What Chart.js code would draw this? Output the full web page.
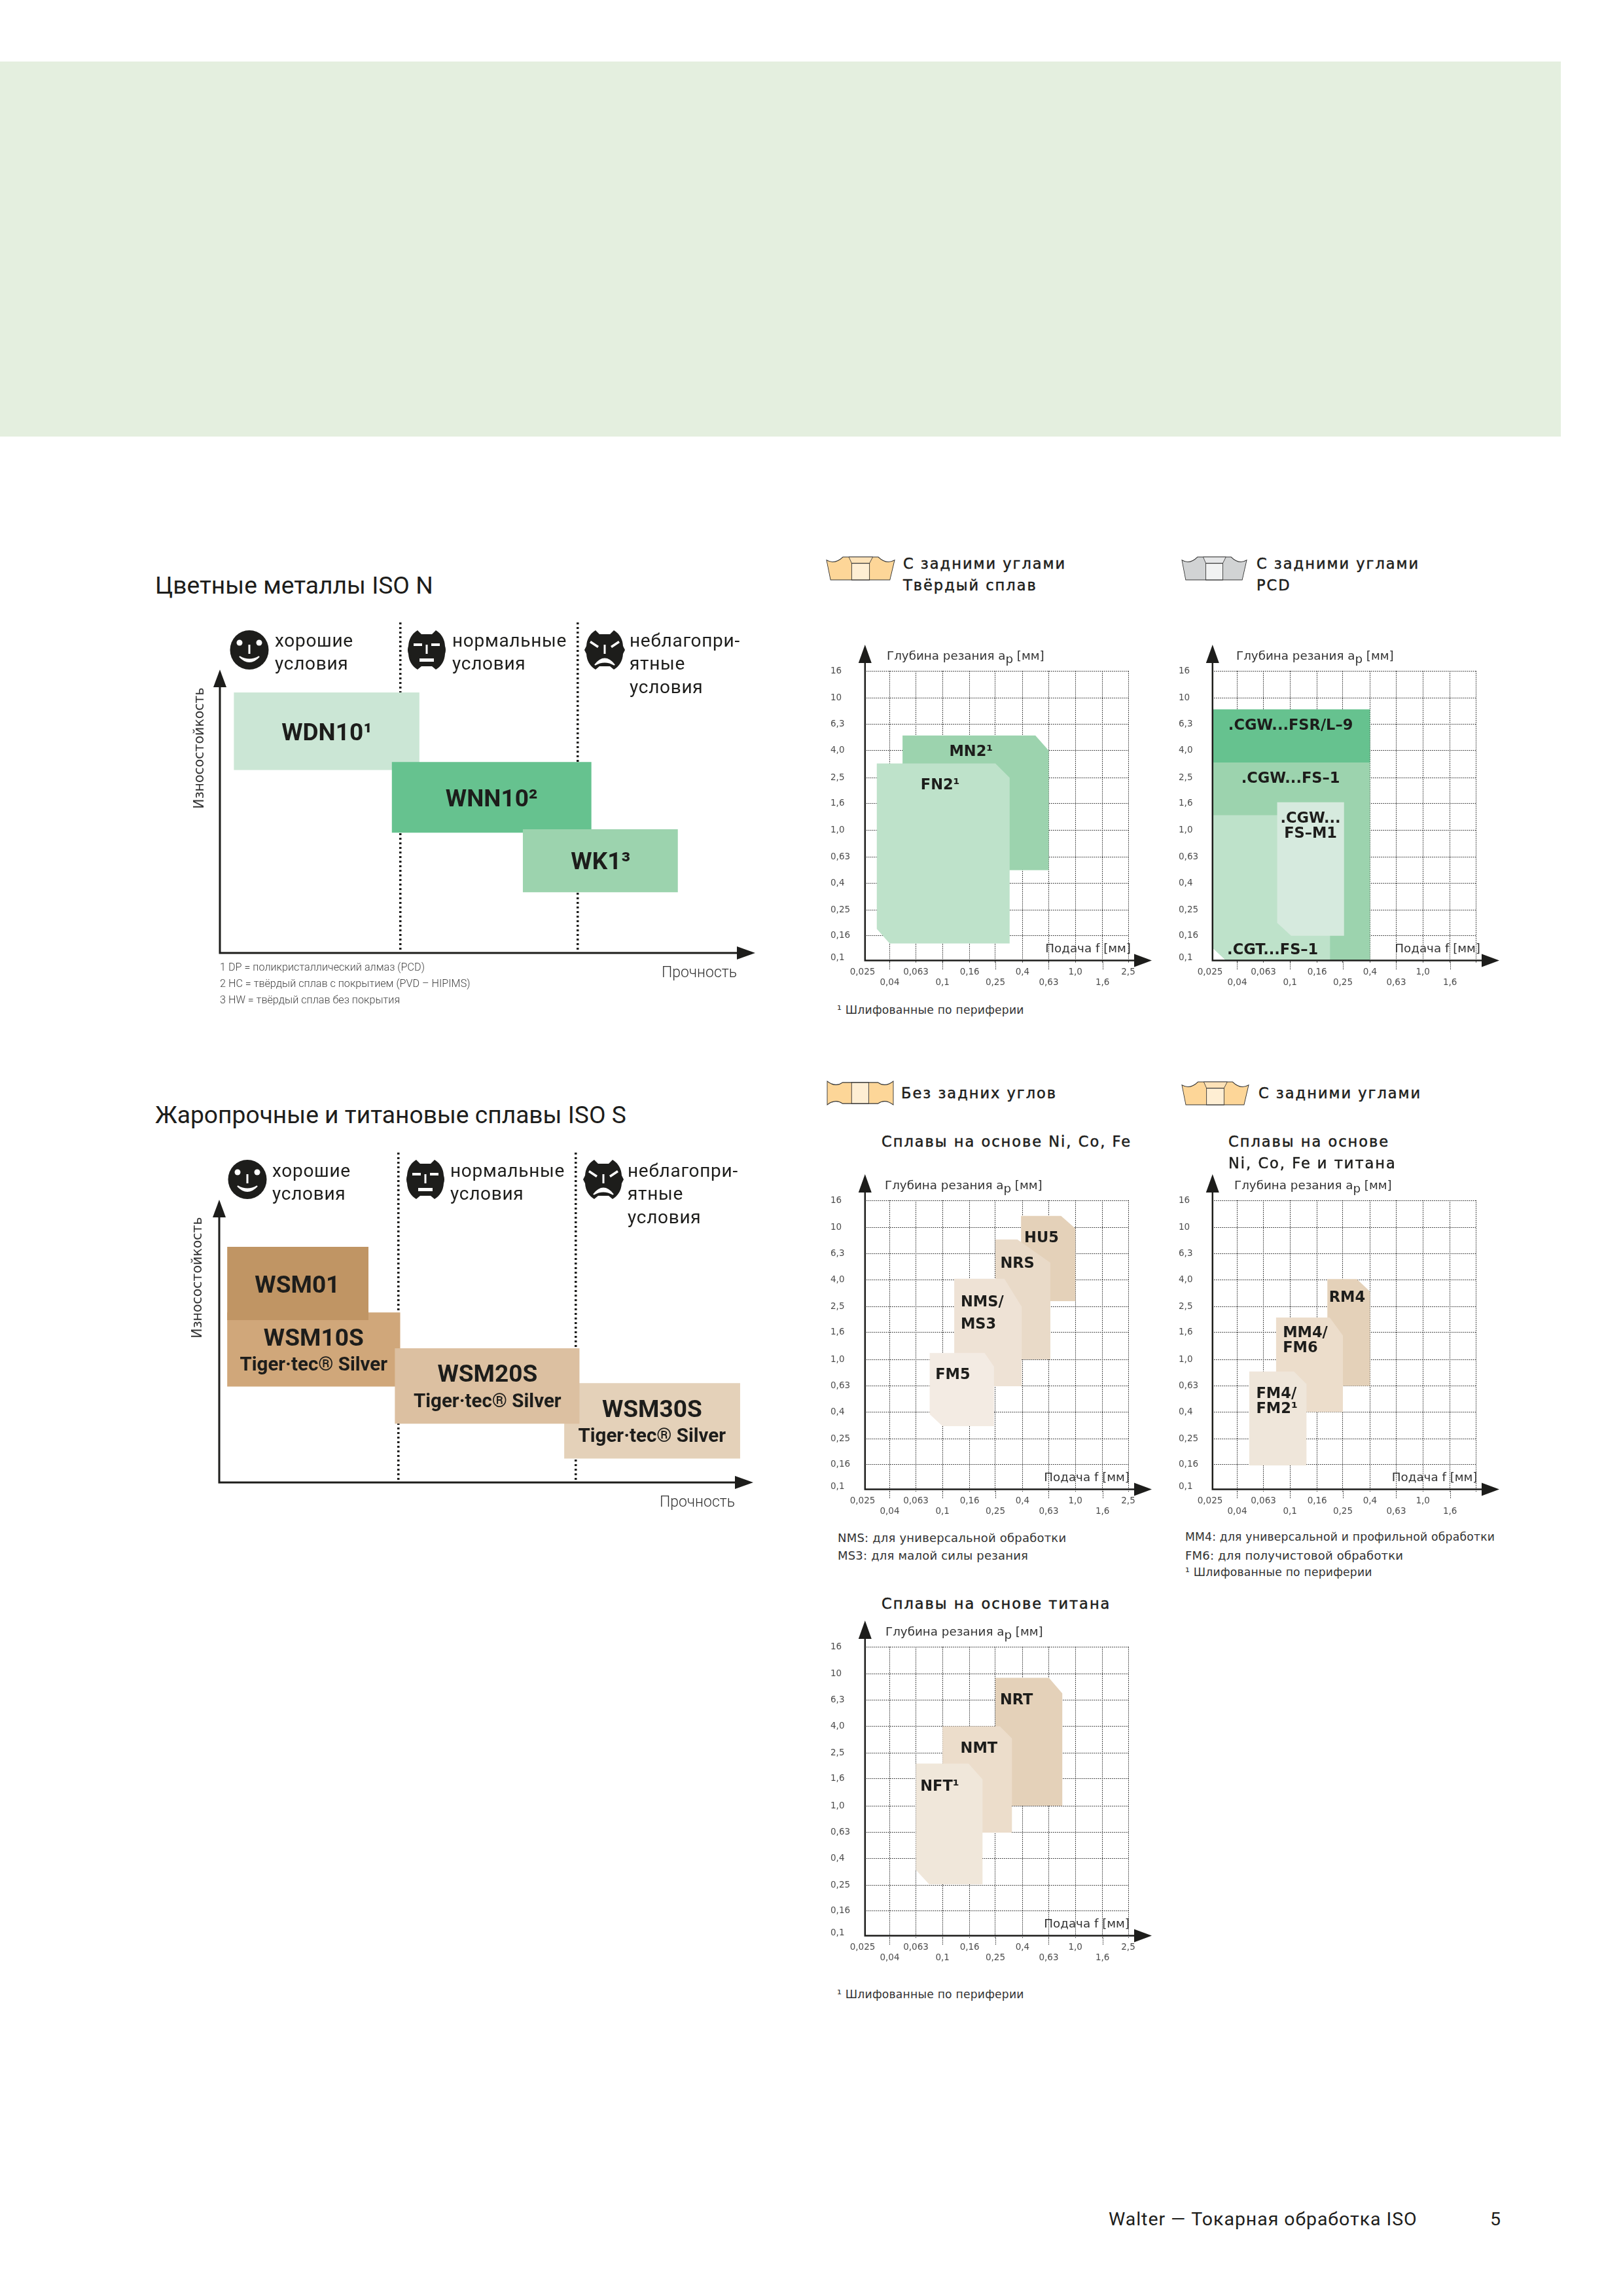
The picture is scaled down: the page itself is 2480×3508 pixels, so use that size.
<!DOCTYPE html>
<html lang="ru"><head><meta charset="utf-8">
<script src="https://cdn.jsdelivr.net/npm/chart.js@4/dist/chart.umd.min.js"></script>
<style>
html,body{margin:0;padding:0;background:#fff}
#page{position:relative;width:2480px;height:3508px;overflow:hidden;background:#fff}
#band{position:absolute;left:0;top:94px;width:2385px;height:573px;background:#e4efdf}
canvas{position:absolute;display:block}
.t{position:absolute;white-space:nowrap;line-height:1;transform:translateY(-50%);color:#1d1d1b}
.title{font:400 37.2px Roboto,sans-serif}
.cond{font:400 28px Roboto,sans-serif;letter-spacing:.7px}
.head{font:400 22.5px "DejaVu Sans",sans-serif;letter-spacing:2px;-webkit-text-stroke:.5px #1d1d1b}
.note{font:400 17.2px "DejaVu Sans",sans-serif;color:#333;letter-spacing:.2px}
.note2{font:400 18px "DejaVu Sans",sans-serif;color:#333;letter-spacing:.2px}
.fine{font:300 16.2px Roboto,sans-serif;color:#444}
.foot{font:400 28.5px Roboto,sans-serif;letter-spacing:.95px}
svg{position:absolute;overflow:visible}
</style></head><body><div id="page"><div id="band"></div></div>
<script>
// ---------- axis values of the feed / depth diagrams
const feedTicks=[0.025,0.04,0.063,0.1,0.16,0.25,0.4,0.63,1,1.6,2.5];
const feedLabels=['0,025','0,04','0,063','0,1','0,16','0,25','0,4','0,63','1,0','1,6','2,5'];
const depthTicks=[0.1,0.16,0.25,0.4,0.63,1,1.6,2.5,4,6.3,10,16];
const depthLabels=['0,1','0,16','0,25','0,4','0,63','1,0','1,6','2,5','4,0','6,3','10','16'];
const feedAxisAt=0.0261, depthAxisAt=0.104;

// ---------- application fields as [feed, depth]
const MN2=[[0.05,0.5],[0.05,5.2],[0.5,5.2],[0.63,4],[0.63,0.5]];
const FN2=[[0.032,3.2],[0.25,3.2],[0.32,2.5],[0.32,0.14],[0.04,0.14],[0.032,0.18]];
const CGW_FSR=[[0.0261,8.2],[0.4,8.2],[0.4,3.25],[0.0261,3.25]];
const CGW_FS1=[[0.0261,3.25],[0.4,3.25],[0.4,0.104],[0.033,0.104],[0.0261,0.13]];
const CGT_FS1=[[0.0261,1.3],[0.2,1.3],[0.2,0.104],[0.033,0.104],[0.0261,0.13]];
const CGW_FSM1=[[0.08,1.63],[0.255,1.63],[0.255,0.16],[0.102,0.16],[0.08,0.2]];
const HU5=[[0.39,12.2],[0.78,12.2],[1,9.8],[1,2.76],[0.39,2.76]];
const NRS=[[0.25,8.1],[0.366,8.1],[0.648,5.4],[0.648,1],[0.25,1]];
const NMS=[[0.1225,4.08],[0.292,4.08],[0.395,2.5],[0.395,0.627],[0.1225,0.627]];
const FM5=[[0.08,1.12],[0.2075,1.12],[0.244,0.883],[0.244,0.3125],[0.1,0.3125],[0.08,0.385]];
const RM4=[[0.191,4.06],[0.318,4.06],[0.4,3.27],[0.4,0.63],[0.191,0.63]];
const MM4=[[0.0785,2.08],[0.199,2.08],[0.25,1.52],[0.25,0.4],[0.0785,0.4]];
const FM4=[[0.0493,0.81],[0.107,0.81],[0.133,0.652],[0.133,0.158],[0.0493,0.158]];
const NRT=[[0.25,9.3],[0.632,9.3],[0.797,7.1],[0.797,1],[0.25,1]];
const NMT=[[0.1,4],[0.27,4],[0.333,3.24],[0.333,0.628],[0.1,0.628]];
const NFT=[[0.063,2.09],[0.157,2.09],[0.2,1.59],[0.2,0.255],[0.0794,0.255],[0.063,0.327]];

// ---------- grade boxes as [toughness from, to, wear from, to]
const conditionDividers=[1,2];
const WDN10=[0.063,1.108,2.795,3.98];
const WNN10=[0.953,2.077,1.837,2.918];
const WK1=[1.691,2.564,0.927,1.89];
const WSM01=[0.0336,0.83,2.481,3.6];
const WSM10S=[0.0336,1.009,1.466,2.598];
const WSM20S=[0.979,2.02,0.898,2.051];
const WSM30S=[1.934,2.926,0.364,1.518];

const INK='#1d1d1b';
const page=document.getElementById('page');
function el(html){const d=document.createElement('div');d.innerHTML=html;return d.firstElementChild;}
function txt(x,y,s,cls){const e=document.createElement('div');e.className='t '+cls;e.style.left=x+'px';e.style.top=y+'px';e.textContent=s;page.appendChild(e);}
function arrowUp(c,x,tip,base,hw){c.beginPath();c.moveTo(x,tip);c.lineTo(x+hw,base);c.lineTo(x-hw,base);c.closePath();c.fill();}
function arrowRight(c,y,tip,base,hh){c.beginPath();c.moveTo(tip,y);c.lineTo(base,y-hh);c.lineTo(base,y+hh);c.closePath();c.fill();}

// ---------- feed / depth diagrams
const fieldPlugin={id:'field',
 beforeDatasetsDraw(ch){const c=ch.ctx,x=ch.scales.x,A=ch.chartArea;
   c.save();c.fillStyle='#fff';c.fillRect(A.left-1,A.top-2,x.getPixelForValue(feedAxisAt)-A.left+1,A.bottom-A.top+4);c.restore();},
 afterDraw(ch,a,o){const c=ch.ctx,x=ch.scales.x,y=ch.scales.y,A=ch.chartArea;
   const ax=x.getPixelForValue(feedAxisAt),ay=y.getPixelForValue(depthAxisAt);
   c.save();
   // short drop lines under the second label row
   c.strokeStyle='#1a1a1a';c.lineWidth=1;c.setLineDash([1.5,1.5]);
   feedTicks.forEach((v,i)=>{if(i%2===1){const p=Math.round(x.getPixelForValue(v))+.5;c.beginPath();c.moveTo(p,ay);c.lineTo(p,ay+15);c.stroke();}});
   c.setLineDash([]);
   // axes
   c.strokeStyle=INK;c.fillStyle=INK;c.lineWidth=2.5;
   c.beginPath();c.moveTo(ax,A.top-20);c.lineTo(ax,ay);c.lineTo(A.right+12,ay);c.stroke();
   arrowUp(c,ax,A.top-40,A.top-12,10);arrowRight(c,ay,A.right+36,A.right+9,10);
   // axis captions
   c.fillStyle='#333';c.font='18.3px "DejaVu Sans"';c.textBaseline='middle';c.textAlign='left';
   let px=A.left+o.depthDx;const py=A.top-22,s1='Глубина резания a';
   c.fillText(s1,px,py);px+=c.measureText(s1).width;
   c.fillText('p',px,py+5);px+=c.measureText('p').width;
   c.fillText(' [мм]',px,py);
   c.textAlign='right';c.fillText('Подача f [мм]',A.right+o.feedDx+1,A.bottom-21);
   // field names
   c.fillStyle=INK;c.font='bold 22.5px "DejaVu Sans"';
   (o.names||[]).forEach(n=>{c.textAlign=n.left?'left':'center';
     const X=x.getPixelForValue(n.f),Y=y.getPixelForValue(n.ap)+2,lh=n.lh||23,l=n.lines;
     l.forEach((s,i)=>c.fillText(s,X,Y+(i-(l.length-1)/2)*lh));});
   c.restore();}};

function fieldChart(box,fields,colors,names,opt){
  const yw=opt.yw,pT=50,pR=45,xh=44,L=box[0],R=box[1],T=box[2],B=box[3];
  const cv=document.createElement('canvas');cv.width=yw+(R-L)+pR;cv.height=pT+(B-T)+xh;
  cv.style.left=(L-yw)+'px';cv.style.top=(T-pT)+'px';page.appendChild(cv);
  new Chart(cv,{type:'line',plugins:[fieldPlugin],data:{datasets:fields.map((f,i)=>({
      data:f.map(p=>({x:p[0],y:p[1]})),fill:'shape',backgroundColor:colors[i],borderWidth:0,pointRadius:0,tension:0,order:fields.length-i}))},
    options:{responsive:false,animation:false,devicePixelRatio:1,layout:{padding:{left:0,top:pT,right:pR,bottom:0}},
      plugins:{legend:{display:false},tooltip:{enabled:false},title:{display:false},field:{names,depthDx:opt.depthDx,feedDx:opt.feedDx}},
      scales:{
        x:{type:'logarithmic',min:0.025,max:2.5,position:'bottom',
          afterBuildTicks:s=>{s.ticks=feedTicks.map(v=>({value:v}));},afterFit:s=>{s.height=xh;},
          border:{display:false,dash:[1.5,1.5]},
          grid:{drawTicks:false,lineWidth:1,color:c=>c.tick&&c.tick.value===0.025?'rgba(0,0,0,0)':'#1a1a1a'},
          ticks:{autoSkip:false,maxRotation:0,minRotation:0,padding:6,color:'#4d4d4d',font:{family:'DejaVu Sans',size:13.5,lineHeight:'16px'},
            callback:(v,i)=>{if(i===10&&opt.hideLast)return '';return i%2?['',feedLabels[i]]:feedLabels[i];}}},
        y:{type:'logarithmic',min:0.1,max:16,position:'left',
          afterBuildTicks:s=>{s.ticks=depthTicks.map(v=>({value:v}));},afterFit:s=>{s.width=yw;},
          border:{display:false,dash:[1.5,1.5]},
          grid:{drawTicks:false,lineWidth:1,color:c=>c.tick&&c.tick.value===0.1?'rgba(0,0,0,0)':'#1a1a1a'},
          ticks:{autoSkip:false,crossAlign:'far',padding:0,color:'#4d4d4d',font:{family:'DejaVu Sans',size:13.5,lineHeight:'16px'},
            callback:(v,i)=>i===0?[depthLabels[0],'']:depthLabels[i]}}
      }}});
}
const GREEN=['#9cd3ae','#bee2ca'];
fieldChart([1318,1724,1025,1471],[MN2,FN2],GREEN,
 [{lines:['MN2¹'],f:0.164,ap:4.0},{lines:['FN2¹'],f:0.096,ap:2.22}],{yw:49,depthDx:37,feedDx:3});
fieldChart([1849,2255,1025,1471],[CGW_FS1,CGW_FSR,CGT_FS1,CGW_FSM1],['#9cd3ae','#66c28f','#bee2ca','#d6eade'],
 [{lines:['.CGW...FSR/L–9'],f:0.101,ap:6.3},{lines:['.CGW...FS–1'],f:0.101,ap:2.5},
  {lines:['.CGW...','FS–M1'],f:0.1427,ap:1.09},{lines:['.CGT...FS–1'],f:0.074,ap:0.127}],{yw:48,depthDx:40,feedDx:6,hideLast:true});
fieldChart([1318,1724,1834,2279],[HU5,NRS,NMS,FM5],['#e4d1b9','#e9dac8','#eee2d5','#f3ebe3'],
 [{lines:['HU5'],f:0.556,ap:8.42},{lines:['NRS'],f:0.366,ap:5.4},{lines:['NMS/','MS3'],f:0.137,ap:2.26,left:true,lh:34},{lines:['FM5'],f:0.1195,ap:0.778}],{yw:49,depthDx:34,feedDx:1});
fieldChart([1849,2255,1834,2279],[RM4,MM4,FM4],['#e4d1b9','#ecddcb','#efe6da'],
 [{lines:['RM4'],f:0.269,ap:3.0},{lines:['MM4/','FM6'],f:0.0882,ap:1.41,left:true},{lines:['FM4/','FM2¹'],f:0.0556,ap:0.492,left:true}],{yw:48,depthDx:37,feedDx:1.5,hideLast:true});
fieldChart([1318,1724,2516,2961],[NRT,NMT,NFT],['#e4d1b9','#ecddcb','#f0e7da'],
 [{lines:['NRT'],f:0.36,ap:6.4},{lines:['NMT'],f:0.188,ap:2.75},{lines:['NFT¹'],f:0.0953,ap:1.43}],{yw:49,depthDx:35,feedDx:1});

// ---------- grade overview diagrams
const gradePlugin={id:'grade',
 afterDraw(ch,a,o){const c=ch.ctx,x=ch.scales.x,y=ch.scales.y,A=ch.chartArea;
   c.save();c.strokeStyle=INK;c.fillStyle=INK;c.lineWidth=3;
   c.beginPath();c.moveTo(A.left,y.getPixelForValue(o.arrowTop)+20);c.lineTo(A.left,A.bottom);c.lineTo(A.right-20,A.bottom);c.stroke();
   arrowUp(c,A.left,y.getPixelForValue(o.arrowTop),y.getPixelForValue(o.arrowTop)+27,10);arrowRight(c,A.bottom,A.right,A.right-28,10);
   c.font='20.5px "DejaVu Sans"';c.fillStyle='#333';c.textBaseline='middle';
   c.save();c.translate(A.left+o.wearDx,A.top+o.wearDy);c.rotate(-Math.PI/2);c.textAlign='center';c.fillText('Износостойкость',0,0);c.restore();
   c.font='300 23px Roboto';c.textAlign='right';c.fillText('Прочность',A.right-28,A.bottom+o.strengthDy);
   c.fillStyle=INK;c.textAlign='center';
   (o.names||[]).forEach(n=>{c.font=(n.small?'bold 29.5px':'bold 37px')+' Roboto';c.fillText(n.text,x.getPixelForValue(n.x),y.getPixelForValue(n.y)+(n.small?2:4));});
   c.restore();}};
function gradeChart(area,xMin,yMax,boxes,colors,names,opt){
  const [L,R,T,B]=area,pL=47,pR=11,pT=11,pB=45;
  const cv=document.createElement('canvas');cv.width=pL+(R-L)+pR;cv.height=pT+(B-T)+pB;
  cv.style.left=(L-pL)+'px';cv.style.top=(T-pT)+'px';page.appendChild(cv);
  new Chart(cv,{type:'line',plugins:[gradePlugin],data:{datasets:boxes.map((b,i)=>({
     data:[{x:b[0],y:b[2]},{x:b[0],y:b[3]},{x:b[1],y:b[3]},{x:b[1],y:b[2]}],fill:'shape',backgroundColor:colors[i],borderWidth:0,pointRadius:0,tension:0,order:boxes.length-i}))},
   options:{responsive:false,animation:false,devicePixelRatio:1,layout:{padding:{left:pL,right:pR,top:pT,bottom:pB}},
     plugins:{legend:{display:false},tooltip:{enabled:false},grade:Object.assign({names},opt)},
     scales:{
       x:{type:'linear',min:xMin,max:3,afterBuildTicks:s=>{s.ticks=conditionDividers.map(v=>({value:v}));},afterFit:s=>{s.height=0;},
          border:{display:false,dash:[3,4]},grid:{drawTicks:false,color:INK,lineWidth:3.5},ticks:{display:false}},
       y:{type:'linear',min:0,max:yMax,display:false}
     }}});
}
gradeChart([336,1154,951,1456],-0.0159,5.05,[WDN10,WNN10,WK1],['#cbe6d5','#66c28f','#9cd3ae'],
 [{text:'WDN10¹',x:0.587,y:3.385},{text:'WNN10²',x:1.515,y:2.375},{text:'WK1³',x:2.129,y:1.417}],
 {arrowTop:4.33,wearDx:-30,wearDy:192,strengthDy:31});
gradeChart([335,1151,1761,2265],-0.0114,5.04,[WSM10S,WSM01,WSM30S,WSM20S],['#d0a77a','#c09564','#e4d1b9','#dcc0a1'],
 [{text:'WSM01',x:0.429,y:3.036},{text:'WSM10S',x:0.521,y:2.225},{text:'Tiger·tec® Silver',x:0.521,y:1.808,small:true},
  {text:'WSM20S',x:1.501,y:1.67},{text:'Tiger·tec® Silver',x:1.501,y:1.245,small:true},
  {text:'WSM30S',x:2.429,y:1.128},{text:'Tiger·tec® Silver',x:2.429,y:0.716,small:true}],
 {arrowTop:4.32,wearDx:-32,wearDy:191,strengthDy:31});

// ---------- page text
txt(237,894,'Цветные металлы ISO N','title');
txt(237,1703,'Жаропрочные и титановые сплавы ISO S','title');
[[420,978,'хорошие'],[420,1013,'условия'],[691,978,'нормальные'],[691,1013,'условия'],[962,978,'неблагопри-'],[962,1013,'ятные'],[962,1049,'условия'],
 [416,1788,'хорошие'],[416,1823,'условия'],[688,1788,'нормальные'],[688,1823,'условия'],[959,1788,'неблагопри-'],[959,1823,'ятные'],[959,1859,'условия']]
 .forEach(r=>txt(r[0],r[1],r[2],'cond'));
txt(336,1477,'1  DP = поликристаллический алмаз (PCD)','fine');
txt(336,1502,'2  HC = твёрдый сплав с покрытием (PVD – HIPIMS)','fine');
txt(336,1527,'3  HW = твёрдый сплав без покрытия','fine');
txt(1380,861,'С задними углами','head');txt(1380,894,'Твёрдый сплав','head');
txt(1920,861,'С задними углами','head');txt(1920,894,'PCD','head');
txt(1377,1670,'Без задних углов','head');txt(1923,1670,'С задними углами','head');
txt(1347,1744,'Сплавы на основе Ni, Co, Fe','head');
txt(1877,1744,'Сплавы на основе','head');txt(1877,1777,'Ni, Co, Fe и титана','head');
txt(1347,2450,'Сплавы на основе титана','head');
txt(1279,1543,'¹ Шлифованные по периферии','note');
txt(1280,2349,'NMS: для универсальной обработки','note2');
txt(1280,2376,'MS3: для малой силы резания','note2');
txt(1811,2348,'MM4: для универсальной и профильной обработки','note');
txt(1811,2376,'FM6: для получистовой обработки','note2');
txt(1811,2402,'¹ Шлифованные по периферии','note');
txt(1279,3047,'¹ Шлифованные по периферии','note');
txt(1694,3390,'Walter — Токарная обработка ISO','foot');
txt(2277,3390,'5','foot');

// ---------- pictograms
function svg(x,y,w,h,vb,body){page.appendChild(el(`<svg xmlns="http://www.w3.org/2000/svg" style="left:${x}px;top:${y}px" width="${w}" height="${h}" viewBox="${vb}" preserveAspectRatio="none">${body}</svg>`));}
function insertPos(x,y,w,h,dark,mid,light){svg(x,y,w,h,'0 0 290 73',
 `<path d="M0,10Q35,25 70,0L220,0Q255,25 290,10L270,73L17,73Z" fill="${mid}" stroke="#333" stroke-width="2.5"/>
  <path d="M95,0L197,0L183,20L107,20Z" fill="${dark}" stroke="#333" stroke-width="2"/>
  <rect x="107" y="20" width="76" height="53" fill="${light}" stroke="#333" stroke-width="2.5"/>`);}
function insertNeg(x,y,w,h){svg(x,y,w,h,'0 0 282 73',
 `<path d="M0,0Q35,20 65,4L217,4Q247,20 282,0L282,73Q247,53 217,69L65,69Q35,53 0,73Z" fill="#fdd698" stroke="#333" stroke-width="2.5"/>
  <rect x="104" y="4" width="73" height="65" fill="#feeed3" stroke="#333" stroke-width="2.5"/>`);}
insertPos(1263,851,104,35,'#fde2b8','#fdd698','#feeed3');
insertPos(1806,851,99,35,'#e6e7e8','#d1d3d4','#f1f2f2');
insertNeg(1264,1652,101,36);
insertPos(1806,1653,102,35,'#fde2b8','#fdd698','#feeed3');
function face(cx,cy,kind){
  const head=kind===0?'<ellipse cx="0" cy="0" rx="29.5" ry="30" fill="#1d1d1b"/>'
   :'<path d="M-28,-6Q-27,-22 -14,-30L-8,-24L8,-24L14,-30Q27,-22 28,-6'+(kind===2?'L31,0L28,6':'Q30,0 28,6')+'Q27,22 14,30L8,25L-8,25L-14,30Q-27,22 -28,6'+(kind===2?'L-31,0Z':'Q-30,0 -28,-6Z')+'" fill="#1d1d1b"/>';
  let f='<rect x="-1.5" y="-8" width="3" height="14" fill="#fff"/>';
  if(kind===0)f+='<circle cx="-15" cy="-11" r="4.5" fill="#fff"/><circle cx="15" cy="-11" r="4.5" fill="#fff"/><path d="M-15,10Q0,26 15,10Q0,19 -15,10Z" fill="#fff" stroke="#fff" stroke-width="2"/>';
  if(kind===1)f+='<rect x="-20" y="-10" width="13" height="4" fill="#fff"/><rect x="7" y="-10" width="13" height="4" fill="#fff"/><rect x="-11" y="13" width="22" height="5" fill="#fff"/>';
  if(kind===2)f+='<path d="M-21,-14L-9,-6L-11,-3L-23,-11Z" fill="#fff"/><path d="M21,-14L9,-6L11,-3L23,-11Z" fill="#fff"/><path d="M-15,23Q0,4 15,23Q0,14 -15,23Z" fill="#fff" stroke="#fff" stroke-width="2"/>';
  svg(cx-32,cy-32,64,64,'-32 -32 64 64',head+f);
}
[[381,993,0],[652,993,1],[924,993,2],[378,1802,0],[650,1802,1],[922,1802,2]].forEach(r=>face(r[0],r[1],r[2]));
</script></body></html>
